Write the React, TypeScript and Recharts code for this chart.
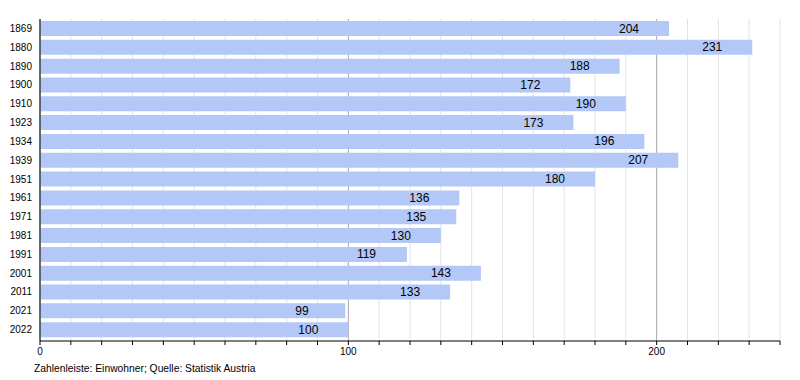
import React from "react";
import { BarChart, Bar, XAxis, YAxis, CartesianGrid, LabelList } from "recharts";

const years = ["1869","1880","1890","1900","1910","1923","1934","1939","1951","1961","1971","1981","1991","2001","2011","2021","2022"];
const population = [204,231,188,172,190,173,196,207,180,136,135,130,119,143,133,99,100];
const xTicks = [0,10,20,30,40,50,60,70,80,90,100,110,120,130,140,150,160,170,180,190,200,210,220,230,240];
const labeledTicks = [0,100,200];
const footer = "Zahlenleiste: Einwohner; Quelle: Statistik Austria";

const data = years.map((y, i) => ({ year: y, value: population[i] }));
const FONT = "'Liberation Sans', Arial, Helvetica, sans-serif";

const GridLine = (props: any) => {
  const { x1, x2, y1, y2, index } = props;
  const major = index % 10 === 0;
  return <line x1={x1} x2={x2} y1={y1} y2={y2} stroke={major ? "#a8a8a8" : "#e2e2e2"} strokeWidth={1} />;
};

const ValueLabel = (props: any) => {
  const { x, y, width, height, value } = props;
  return (
    <text x={x + width - 50} y={y + height / 2} textAnchor="start" dominantBaseline="central" fontSize={12} fill="#000" fontFamily={FONT}>
      {value}
    </text>
  );
};

export default function App() {
  return (
    <div style={{ position: "absolute", left: 0, top: 0, width: 800, height: 380, background: "#fff", fontFamily: FONT }}>
      <BarChart width={800} height={380} data={data} layout="vertical" margin={{ top: 19, right: 20, bottom: 9, left: 0 }}>
        <CartesianGrid horizontal={false} vertical={GridLine as any} />
        <XAxis
          type="number"
          domain={[0, 240]}
          ticks={xTicks}
          interval={0}
          tickSize={4}
          tickMargin={3}
          axisLine={{ stroke: "#000" }}
          tickLine={{ stroke: "#000" }}
          tick={{ fontSize: 10, fill: "#000", fontFamily: FONT }}
          tickFormatter={(v: number) => (labeledTicks.includes(v) ? String(v) : "")}
        />
        <YAxis
          type="category"
          dataKey="year"
          width={40}
          tickLine={false}
          tickSize={0}
          tickMargin={8}
          axisLine={{ stroke: "#000" }}
          padding={{ top: 0, bottom: 2 }}
          tick={{ fontSize: 10, fill: "#000", fontFamily: FONT }}
          interval={0}
        />
        <Bar dataKey="value" fill="#b3c8f7" barSize={15} isAnimationActive={false}>
          <LabelList dataKey="value" content={ValueLabel as any} />
        </Bar>
      </BarChart>
      <div style={{ position: "absolute", left: 34, top: 363, fontSize: 10.3, lineHeight: "12px", color: "#000", fontFamily: FONT, whiteSpace: "nowrap" }}>
        {footer}
      </div>
    </div>
  );
}
